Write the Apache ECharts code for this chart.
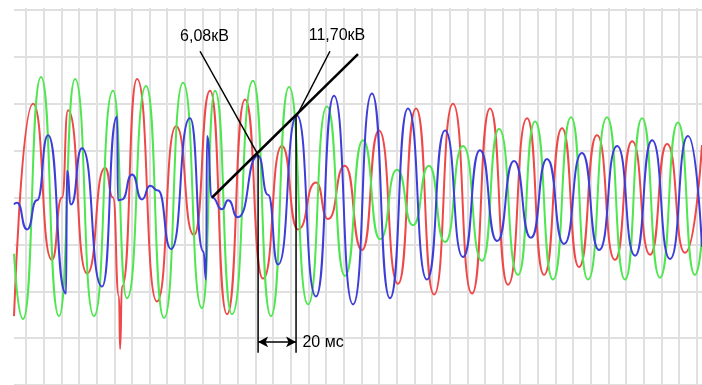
<!DOCTYPE html>
<html>
<head>
<meta charset="utf-8">
<script src="https://cdn.jsdelivr.net/npm/echarts@6/dist/echarts.min.js"></script>
<style>
  html, body { margin: 0; padding: 0; background: #fff; }
  #chartDom { width: 702px; height: 385px; }
</style>
</head>
<body>
<div id="chartDom"></div>
<script>
// время, мс (сетка 10 мс) ; значения в делениях сетки
const redT = [3.2, 14.0, 24.7, 30.4, 33.8, 44.6, 54.8, 59.3, 62.7, 63.3, 64.4, 72.9, 84.2, 95.0, 105.2, 114.3, 123.9, 134.1, 144.3, 155.0, 164.1, 174.3, 181.1, 190.7, 200.4, 210.0, 220.8, 231.0, 241.2, 251.9, 262.7, 272.9, 283.1, 293.9, 303.5, 313.7, 323.3, 333.5, 343.7, 353.4, 363.6, 373.2, 383.4, 393.0];
const redV = [-2.53, 2.00, -1.33, 0, 1.86, -1.62, 0.63, 0, -2.11, -3.23, -1.90, 2.53, -2.22, 1.52, -0.80, 2.28, -2.49, 2.09, -1.73, 1.10, -0.68, 0.32, -0.46, 0.68, -1.12, 1.43, -1.84, 1.90, -2.07, 2.00, -2.05, 1.90, -1.86, 1.69, -1.65, 1.48, -1.48, 1.33, -1.33, 1.20, -1.22, 1.14, -1.18, 1.12];

const greenT = [3.2, 8.3, 18.5, 28.7, 37.8, 48.5, 59.3, 67.2, 78.0, 88.2, 99.0, 109.7, 117.1, 126.7, 138.6, 148.8, 159.0, 169.8, 180.5, 190.7, 200.9, 210.6, 220.2, 229.3, 238.3, 247.4, 257.6, 268.4, 278.0, 288.8, 298.4, 308.6, 318.8, 328.4, 339.2, 349.4, 359.0, 369.2, 379.4, 389.0, 393.0];
const greenV = [-1.20, -2.59, 2.57, -2.53, 2.53, -2.53, 2.28, -2.15, 2.38, -2.57, 2.45, -2.36, 2.28, -2.49, 2.49, -2.53, 2.36, -2.28, 1.94, -1.67, 1.22, -0.89, 0.59, -0.59, 0.68, -0.95, 1.10, -1.35, 1.46, -1.65, 1.62, -1.75, 1.71, -1.75, 1.71, -1.75, 1.69, -1.71, 1.60, -1.65, -0.84];

const blueT = [3.2, 4.9, 10.6, 16.2, 22.5, 32.7, 33.2, 35.5, 41.7, 53.1, 61.6, 62.1, 64.4, 70.1, 75.7, 80.3, 84.8, 92.2, 102.9, 110.5, 112.0, 112.6, 115.4, 121.1, 124.5, 130.1, 141.5, 147.1, 152.8, 163.5, 174.3, 184.5, 195.3, 206.0, 216.2, 226.4, 237.2, 247.4, 257.6, 267.2, 276.9, 286.5, 296.1, 305.2, 314.8, 325.0, 334.7, 344.9, 355.1, 364.7, 374.9, 385.1, 393.0];
const blueV = [-0.15, -0.11, -0.68, -0.06, 1.33, -2.05, 0.57, -0.15, 1.05, -1.90, 1.73, -0.06, -0.04, 0.49, -0.04, 0.25, 0.15, -1.10, 1.69, -1.15, -1.75, 1.31, 0, -0.25, -0.06, -0.42, 0.89, 0.06, -1.43, 1.75, -2.11, 2.17, -2.28, 2.22, -2.15, 1.90, -1.75, 1.43, -1.27, 1.01, -0.93, 0.78, -0.86, 0.82, -0.99, 0.95, -1.12, 1.10, -1.24, 1.22, -1.31, 1.31, -1.05];

// выноски и отметки
const leaderThick = [[115.4, 0], [198.1, 3.06]];
const leader608 = [[108.6, 3.12], [141.5, 0.91]];
const leader1170 = [[182.2, 3.12], [163.5, 1.75]];
const cursorA = [[141.5, 0.91], [141.5, -3.31]];
const cursorB = [[163.0, 1.75], [163.0, -3.31]];
const spanArrow = [[141.5, -3.08], [163.0, -3.08]];
const labelNames = ['6,08кВ', '11,70кВ', '20 мс'];
const labelPos = [[111.1, 3.43], [186.2, 3.45], [178.3, -3.10]];

const pairs = (t, v) => t.map((x, i) => [x, v[i]]);

const chart = echarts.init(document.getElementById('chartDom'));

const wave = (name, color, data) => ({
  name, type: 'line', xAxisIndex: 1, yAxisIndex: 1,
  data, smooth: 0.6, smoothMonotone: 'x', showSymbol: false, symbol: 'none',
  lineStyle: { color, width: 2 }, z: 3
});
const seg = (data, width) => ({
  type: 'line', xAxisIndex: 1, yAxisIndex: 1, data, symbol: 'none',
  lineStyle: { color: '#000', width }, z: 5
});

chart.setOption({
  animation: false,
  backgroundColor: '#fff',
  grid: [
    { left: 8.35, right: 0, top: 8, bottom: 0 },
    { left: 14, right: 0, top: 10, height: 379 }
  ],
  xAxis: [
    {
      gridIndex: 0, type: 'value', min: 0, max: 393, interval: 10,
      axisLine: { show: false }, axisTick: { show: false }, axisLabel: { show: false },
      splitLine: { show: true, showMinLine: false, showMaxLine: false, lineStyle: { color: '#e0e0e0', width: 2 } }
    },
    {
      gridIndex: 1, type: 'value', min: 3.2, max: 393,
      axisLine: { show: false }, axisTick: { show: false }, axisLabel: { show: false },
      splitLine: { show: false }
    }
  ],
  yAxis: [
    { gridIndex: 0, type: 'value', min: 0, max: 1, show: false },
    {
      gridIndex: 1, type: 'value', min: -4, max: 4, interval: 1,
      axisLine: { show: false }, axisTick: { show: false }, axisLabel: { show: false },
      splitLine: { show: true, lineStyle: { color: '#e0e0e0', width: 2 } }
    }
  ],
  series: [
    wave('A', '#ef4848', pairs(redT, redV)),
    wave('B', '#4fe64f', pairs(greenT, greenV)),
    wave('C', '#3d3dd8', pairs(blueT, blueV)),
    seg(leaderThick, 2.5),
    seg(leader608, 1.5),
    seg(leader1170, 1.5),
    seg(cursorA, 1.5),
    seg(cursorB, 1.5),
    {
      type: 'line', xAxisIndex: 1, yAxisIndex: 1, data: [], symbol: 'none',
      markLine: {
        silent: true, symbol: ['arrow', 'arrow'], symbolSize: [8, 10],
        label: { show: false },
        lineStyle: { color: '#000', width: 1.5, type: 'solid' },
        data: [[{ coord: spanArrow[0] }, { coord: spanArrow[1] }]]
      }
    },
    {
      type: 'scatter', xAxisIndex: 1, yAxisIndex: 1, symbolSize: 0,
      itemStyle: { color: '#000', opacity: 1 },
      data: labelNames.map((n, i) => ({ name: n, value: labelPos[i] })),
      label: {
        show: true, position: 'inside', formatter: '{b}', opacity: 1,
        fontFamily: 'Liberation Sans, Arial, sans-serif', fontSize: 16, color: '#000',
        textBorderWidth: 0, textShadowBlur: 0
      },
      z: 6
    }
  ]
});
</script>
</body>
</html>
